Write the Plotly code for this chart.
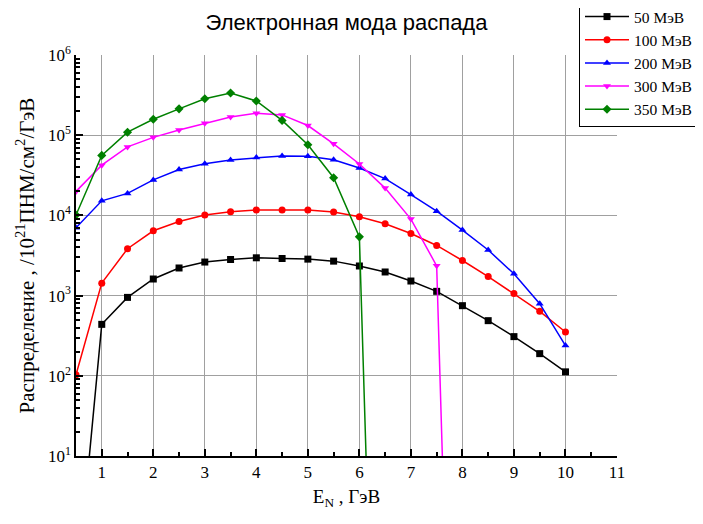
import plotly.graph_objects as go

x_full = [0.5, 1, 1.5, 2, 2.5, 3, 3.5, 4, 4.5, 5, 5.5, 6, 6.5, 7, 7.5, 8, 8.5, 9, 9.5, 10]
x_300 = [0.5, 1, 1.5, 2, 2.5, 3, 3.5, 4, 4.5, 5, 5.5, 6, 6.5, 7, 7.5, 8]
x_350 = [0.5, 1, 1.5, 2, 2.5, 3, 3.5, 4, 4.5, 5, 5.5, 6, 6.5]

y_50 = [0.17, 438, 950, 1610, 2210, 2620, 2820, 2960, 2900, 2850, 2690, 2340, 1970, 1520, 1130, 749, 487, 308, 189, 112]
y_100 = [103, 1430, 3840, 6430, 8400, 10100, 11100, 11700, 11700, 11700, 11000, 9600, 7860, 5950, 4220, 2740, 1730, 1060, 636, 352]
y_200 = [7000, 15200, 18800, 27700, 37300, 44000, 49200, 52600, 55200, 54700, 49500, 39000, 28800, 18200, 11300, 6560, 3700, 1870, 793, 238]
y_300 = [19900, 42300, 71500, 94000, 116000, 141000, 169000, 188000, 179000, 132000, 78000, 43800, 21900, 9000, 2350, 4e-8]
y_350 = [10100, 56000, 109000, 158000, 213000, 285000, 336000, 267000, 153000, 76000, 29500, 5400, 1.5e-7]

names = ["50 МэВ", "100 МэВ", "200 МэВ", "300 МэВ", "350 МэВ"]
colors = ["#000000", "#ff0000", "#0000ff", "#ff00ff", "#008000"]
symbols = ["square", "circle", "triangle-up", "triangle-down", "diamond"]
xs = [x_full, x_full, x_full, x_300, x_350]
ys = [y_50, y_100, y_200, y_300, y_350]

y_tickvals = [10, 100, 1000, 10000, 100000, 1000000]
y_ticktext = ["10<sup>1</sup>", "10<sup>2</sup>", "10<sup>3</sup>", "10<sup>4</sup>", "10<sup>5</sup>", "10<sup>6</sup>"]
x_tickvals = [1, 2, 3, 4, 5, 6, 7, 8, 9, 10, 11]

fig = go.Figure()
for xv, yv, n, c, s in zip(xs, ys, names, colors, symbols):
    fig.add_trace(go.Scatter(
        x=xv, y=yv, name=n, mode="lines+markers",
        line=dict(color=c, width=1.5),
        marker=dict(symbol=s, size=7, color=c),
    ))

minor_y = [m * 10 ** e for e in range(1, 6) for m in range(2, 10)]

serif = "Liberation Serif, Times New Roman, serif"
fig.update_layout(
    width=695, height=516,
    margin=dict(l=68, r=86, t=47, b=68, autoexpand=False),
    plot_bgcolor="white", paper_bgcolor="white",
    title=dict(text="Электронная мода распада", x=0.5, xanchor="center",
               xref="paper", y=1 - 14 / 516, yanchor="middle", automargin=False,
               font=dict(family="Liberation Sans, Arial, sans-serif", size=22, color="black")),
    showlegend=True,
    legend=dict(x=(571 - 68) / 541, y=1 + 56 / 401, xanchor="left", yanchor="top",
                bordercolor="black", borderwidth=1, bgcolor="white", itemwidth=44,
                font=dict(family=serif, size=15.5, color="black")),
    xaxis=dict(range=[0.5, 11], tickmode="array", tickvals=x_tickvals, automargin=False,
               ticks="inside", ticklen=7, tickwidth=1.5, tickcolor="black",
               showline=True, linecolor="black", linewidth=1.5,
               showgrid=True, gridcolor="#a0a0a0", gridwidth=1,
               zeroline=False,
               minor=dict(tickmode="array", tickvals=[1.5, 2.5, 3.5, 4.5, 5.5, 6.5, 7.5, 8.5, 9.5, 10.5],
                          ticks="inside", ticklen=4, tickcolor="black", showgrid=False),
               tickfont=dict(family=serif, size=17, color="black"),
               title=dict(text="E<sub>N</sub> , ГэВ", font=dict(family=serif, size=19, color="black"),
                          standoff=9)),
    yaxis=dict(type="log", range=[1, 6], tickmode="array", tickvals=y_tickvals, ticktext=y_ticktext,
               automargin=False,
               ticks="inside", ticklen=7, tickwidth=1.5, tickcolor="black",
               showline=True, linecolor="black", linewidth=1.5,
               showgrid=True, gridcolor="#a0a0a0", gridwidth=1,
               zeroline=False,
               minor=dict(tickmode="array", tickvals=minor_y, ticks="inside", ticklen=4,
                          tickcolor="black", showgrid=False),
               tickfont=dict(family=serif, size=17, color="black"),
               title=dict(text="Распределение , /10<sup>21</sup>ПНМ/см<sup>2</sup>/ГэВ",
                          font=dict(family=serif, size=21, color="black"), standoff=8)),
)

fig.write_html("out.html")
